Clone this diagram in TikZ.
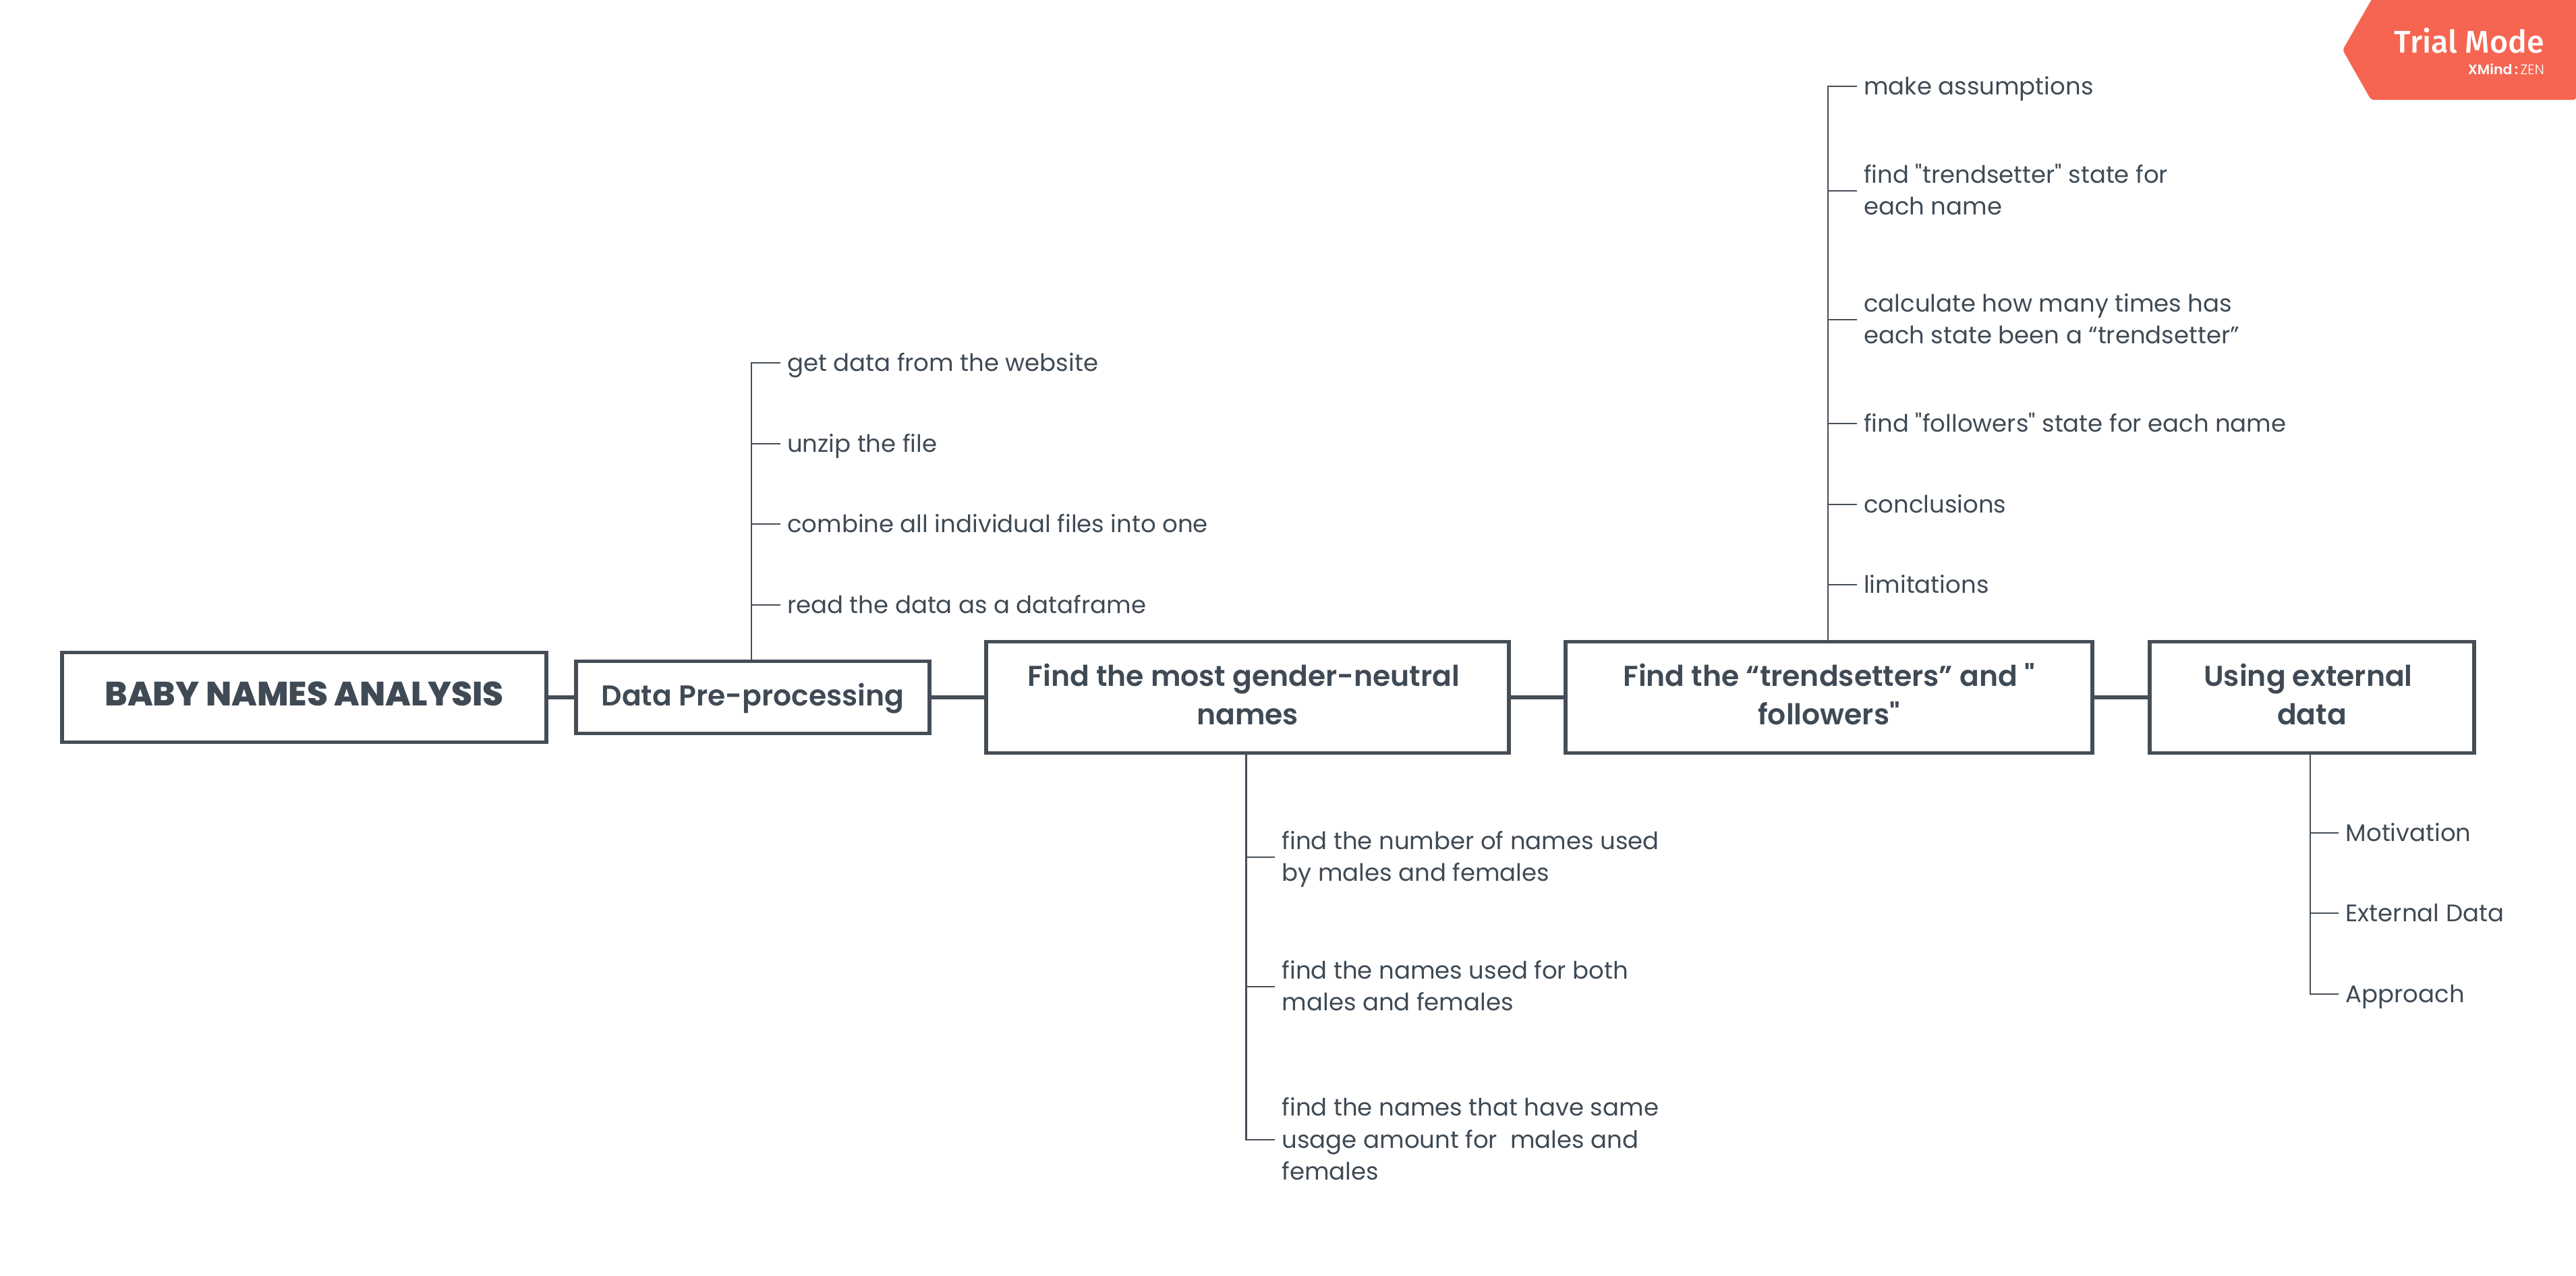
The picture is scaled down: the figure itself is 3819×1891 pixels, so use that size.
\documentclass[tikz,border=0pt]{standalone}
\usepackage{fontspec}
\newfontfamily\leaffont{Poppins}
\newfontfamily\headfont{Poppins SemiBold}
\newfontfamily\rootfont{Poppins ExtraBold}
\newfontfamily\tabfont{Fira Sans Medium}
\newfontfamily\tabbold{Poppins SemiBold}
\newfontfamily\tablight{Poppins Light}
\newcommand{\lst}{\rule[-11.75pt]{0pt}{47.5pt}}
\newcommand{\hst}{\rule[-16.5pt]{0pt}{57pt}}
\newcommand{\trail}{\rule{11pt}{0pt}}
\definecolor{ink}{HTML}{454E57}
\definecolor{txt}{HTML}{3F4A55}
\definecolor{tabc}{HTML}{F56551}
\tikzset{
  mainbox/.style={draw=ink,line width=5.5pt,fill=white,rectangle,inner sep=0pt,align=center,text=txt,font=\headfont\fontsize{42.5}{57}\selectfont},
  leaf/.style={anchor=west,inner xsep=10.5pt,inner ysep=0pt,align=left,text=txt,font=\leaffont\fontsize{35.5}{47.5}\selectfont},
  trunk/.style={draw=ink,line width=6pt},
  twig/.style={draw=ink,line width=2.5pt},
}
\begin{document}
\begin{tikzpicture}[x=1pt,y=-1pt]
\useasboundingbox (0,0) rectangle (3819,1891);
% main boxes
\node[mainbox,minimum width=718pt,minimum height=133pt] (root) at (451,1034) {\rootfont\fontsize{50}{57}\selectfont\hst BABY NAMES ANALYSIS};
\node[mainbox,minimum width=524pt,minimum height=107pt] (pre) at (1116,1034) {\hst Data Pre-processing};
\node[mainbox,minimum width=775pt,minimum height=165pt] (neu) at (1849.5,1034) {\hst Find the most gender-neutral\trail\\\hst names};
\node[mainbox,minimum width=781pt,minimum height=165pt] (tre) at (2711.5,1034) {\hst Find the “trendsetters” and "\\\hst followers"};
\node[mainbox,minimum width=481pt,minimum height=165pt] (ext) at (3427.5,1034) {\hst Using external\trail\\\hst data};
\draw[trunk] (root) -- (pre);
\draw[trunk] (pre) -- (neu);
\draw[trunk] (neu) -- (tre);
\draw[trunk] (tre) -- (ext);
% Data pre-processing leaves
\node[leaf] (p1) at (1156.5,538) {\lst get data from the website};
\node[leaf] (p2) at (1156.5,658) {\lst unzip the file};
\node[leaf] (p3) at (1156.5,777) {\lst combine all individual files into one};
\node[leaf] (p4) at (1156.5,897) {\lst read the data as a dataframe};
\foreach \n in {p1,p2,p3,p4} \draw[twig] ([xshift=-2pt]pre.north) |- (\n.west);
% gender neutral leaves
\node[leaf] (n1) at (1890,1271) {\lst find the number of names used\\\lst by males and females};
\node[leaf] (n2) at (1890,1463) {\lst find the names used for both\\\lst males and females};
\node[leaf] (n3) at (1890,1690) {\lst find the names that have same\\\lst usage amount for\ \ males and\\\lst females};
\foreach \n in {n1,n2,n3} \draw[twig] ([xshift=-2pt]neu.south) |- (\n.west);
% trendsetter leaves
\node[leaf] (t1) at (2752.5,128) {\lst make assumptions};
\node[leaf] (t2) at (2752.5,283) {\lst find "trendsetter" state for\\\lst each name};
\node[leaf] (t3) at (2752.5,474) {\lst calculate how many times has\\\lst each state been a “trendsetter”};
\node[leaf] (t4) at (2752.5,628) {\lst find "followers" state for each name};
\node[leaf] (t5) at (2752.5,748) {\lst conclusions};
\node[leaf] (t6) at (2752.5,867) {\lst limitations};
\foreach \n in {t1,t2,t3,t4,t5,t6} \draw[twig] ([xshift=-1.5pt]tre.north) |- (\n.west);
% external leaves
\node[leaf] (e1) at (3467,1235) {\lst Motivation};
\node[leaf] (e2) at (3467,1354) {\lst External Data};
\node[leaf] (e3) at (3467,1474) {\lst Approach};
\foreach \n in {e1,e2,e3} \draw[twig] ([xshift=-2.5pt]ext.south) |- (\n.west);
% trial tab
\fill[tabc,rounded corners=4pt] (3519,-6) -- (3473,74) -- (3515,148) -- (3819,148) -- (3819,-6) -- cycle;
\node[anchor=base east,inner sep=0pt,text=white,font=\tabfont\fontsize{46.5}{47}\selectfont] (tabt) at (3772,78) {Trial Mode};
\node[anchor=base east,inner sep=0pt,text=white,font=\fontsize{20.5}{21}\selectfont] (tabs) at (3772,110) {{\tabbold XMind}\,{\tabbold:}\,{\tablight ZEN}};
\end{tikzpicture}
\end{document}
